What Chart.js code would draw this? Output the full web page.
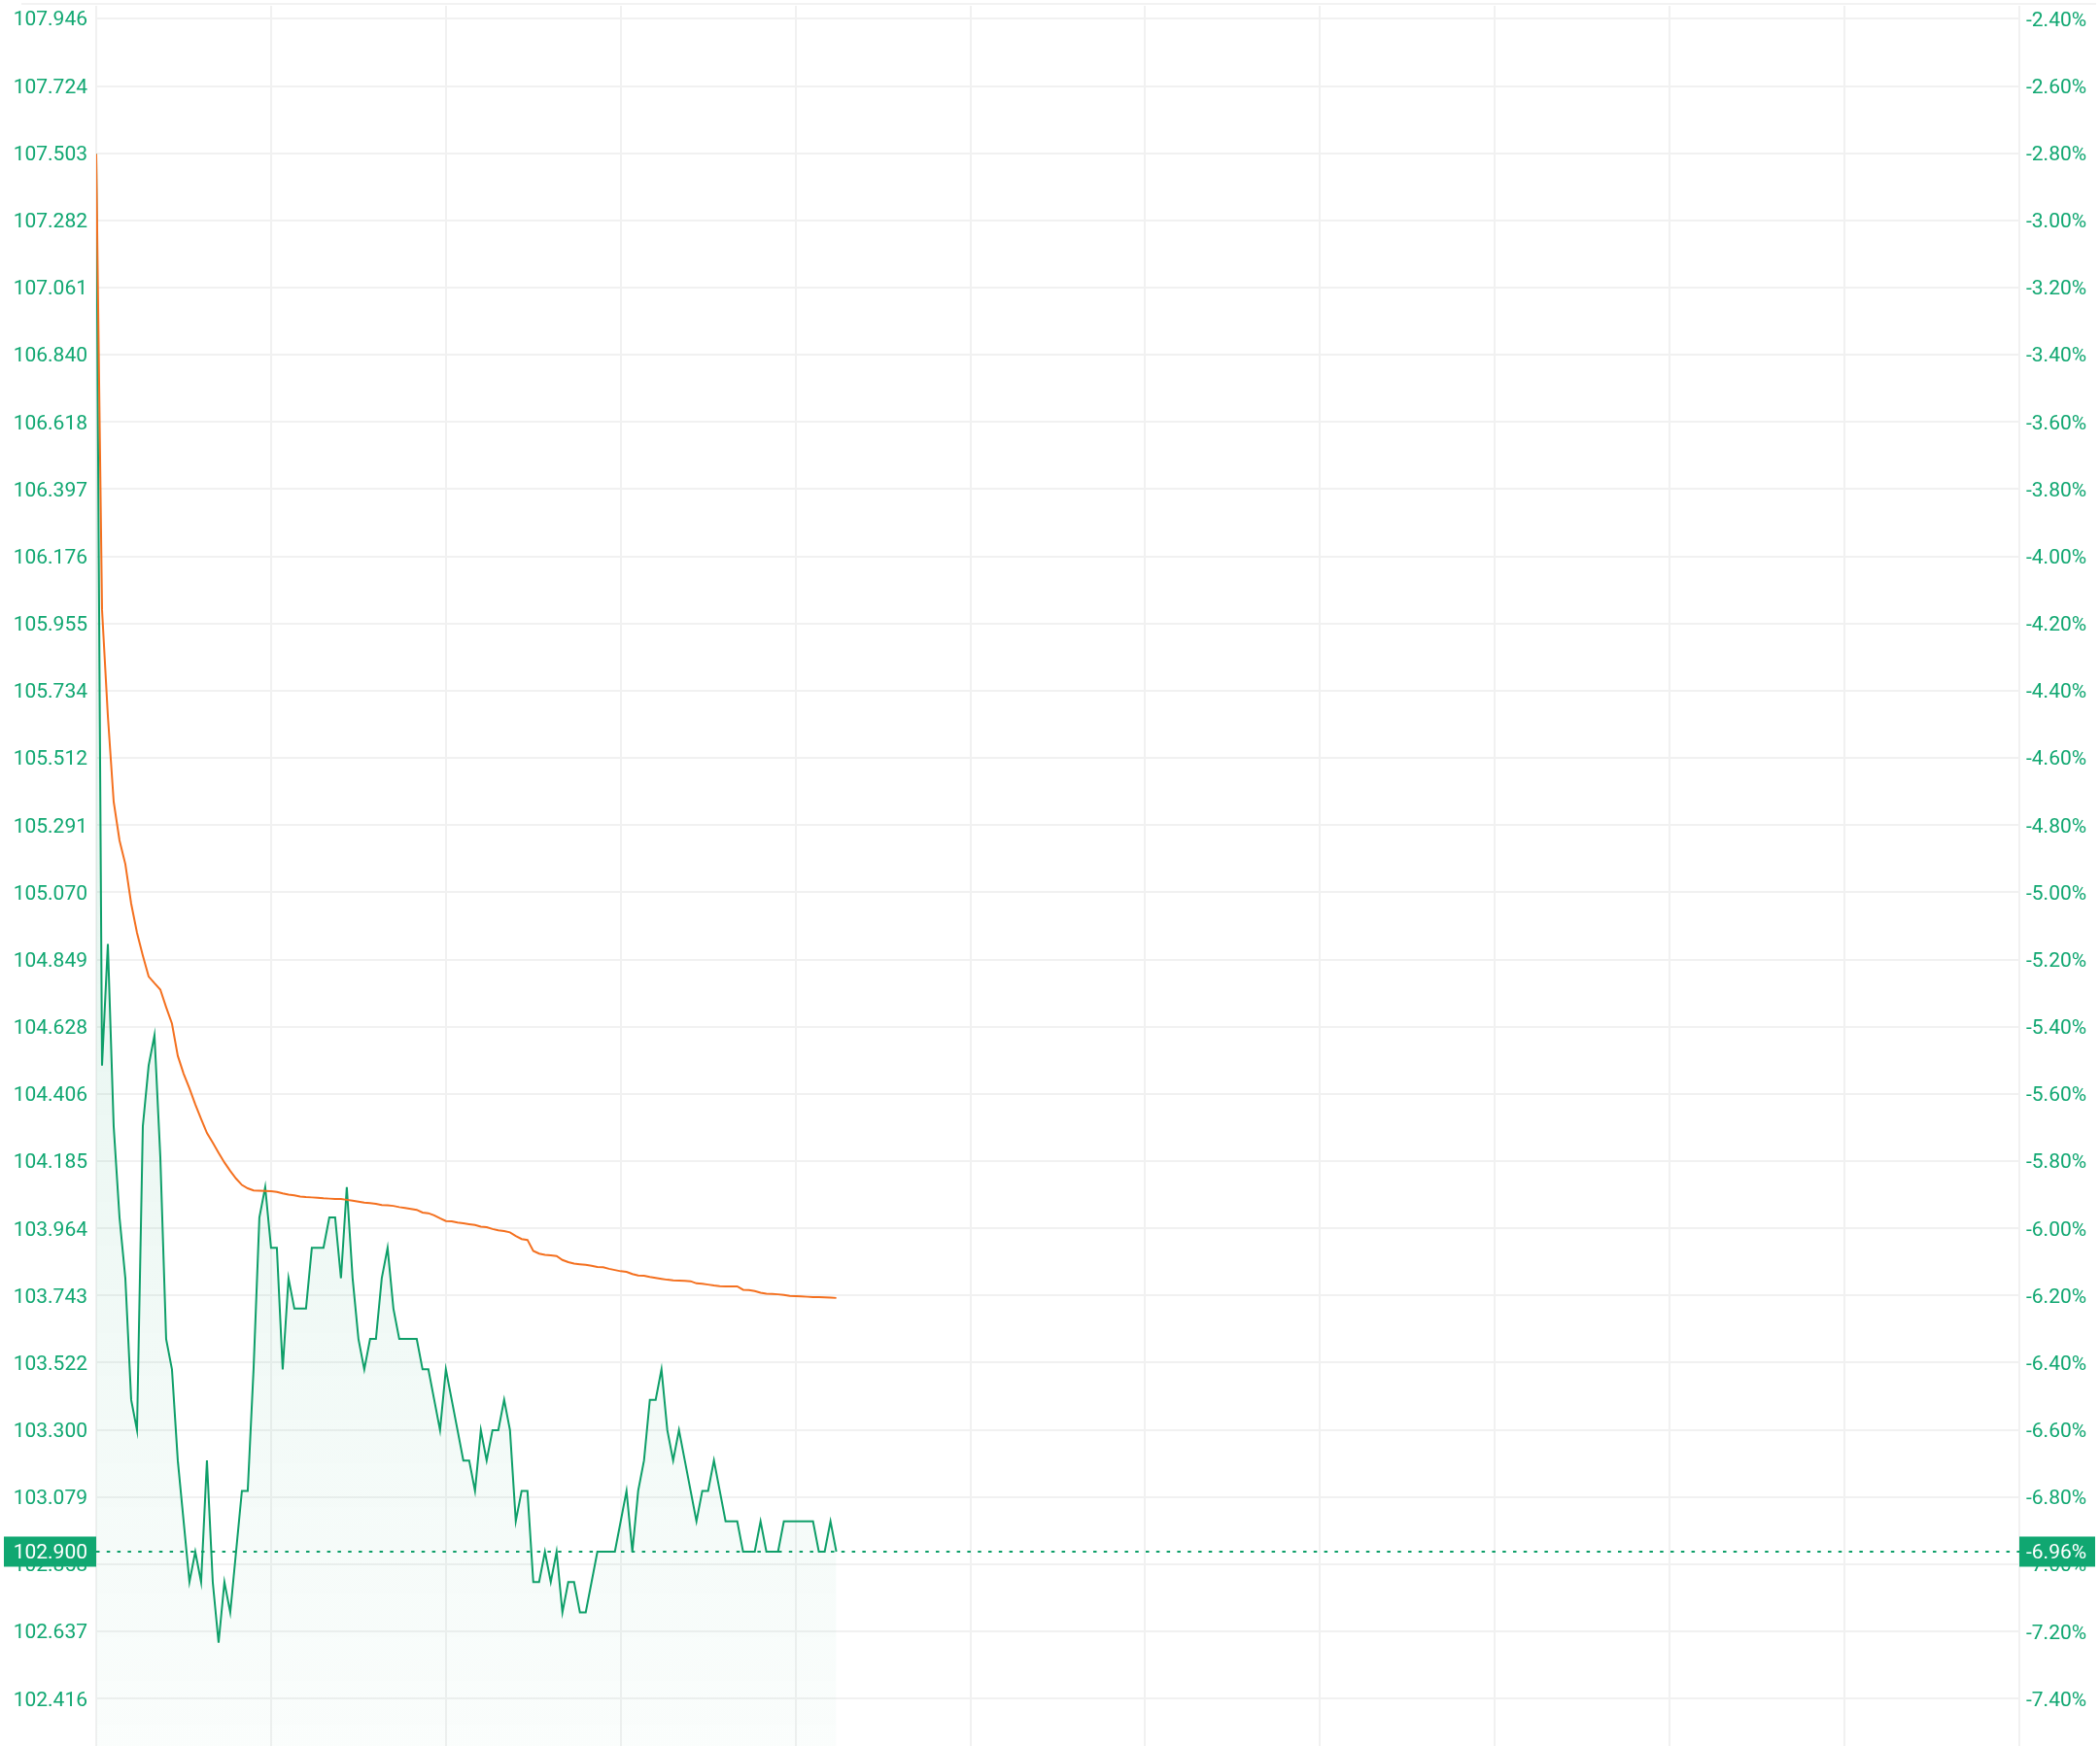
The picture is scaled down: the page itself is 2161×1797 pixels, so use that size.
<!DOCTYPE html>
<html>
<head>
<meta charset="utf-8">
<script src="https://cdn.jsdelivr.net/npm/chart.js@4.4.1/dist/chart.umd.min.js"></script>
<style>
  html, body { margin: 0; padding: 0; background: #fff; }
  canvas { display: block; }
</style>
</head>
<body>
<canvas id="priceChart" width="2161" height="1797"></canvas>
<script>
// Intraday price (green) and average price (orange), one point per minute
const prices = [
  107.5, 104.5, 104.9, 104.3, 104.0, 103.8, 103.4, 103.3, 104.3, 104.5,
  104.6, 104.2, 103.6, 103.5, 103.2, 103.0, 102.8, 102.9, 102.8, 103.2,
  102.8, 102.6, 102.8, 102.7, 102.9, 103.1, 103.1, 103.5, 104.0, 104.1,
  103.9, 103.9, 103.5, 103.8, 103.7, 103.7, 103.7, 103.9, 103.9, 103.9,
  104.0, 104.0, 103.8, 104.1, 103.8, 103.6, 103.5, 103.6, 103.6, 103.8,
  103.9, 103.7, 103.6, 103.6, 103.6, 103.6, 103.5, 103.5, 103.4, 103.3,
  103.5, 103.4, 103.3, 103.2, 103.2, 103.1, 103.3, 103.2, 103.3, 103.3,
  103.4, 103.3, 103.0, 103.1, 103.1, 102.8, 102.8, 102.9, 102.8, 102.9,
  102.7, 102.8, 102.8, 102.7, 102.7, 102.8, 102.9, 102.9, 102.9, 102.9,
  103.0, 103.1, 102.9, 103.1, 103.2, 103.4, 103.4, 103.5, 103.3, 103.2,
  103.3, 103.2, 103.1, 103.0, 103.1, 103.1, 103.2, 103.1, 103.0, 103.0,
  103.0, 102.9, 102.9, 102.9, 103.0, 102.9, 102.9, 102.9, 103.0, 103.0,
  103.0, 103.0, 103.0, 103.0, 102.9, 102.9, 103.0, 102.9
];

const avgPrices = [
  107.5, 106.0, 105.651, 105.368, 105.241, 105.163, 105.033, 104.937, 104.862, 104.793,
  104.771, 104.750, 104.692, 104.638, 104.532, 104.473, 104.425, 104.372, 104.324, 104.278,
  104.246, 104.213, 104.181, 104.153, 104.128, 104.107, 104.096, 104.089, 104.088, 104.087,
  104.086, 104.084, 104.079, 104.075, 104.073, 104.069, 104.067, 104.066, 104.065, 104.063,
  104.062, 104.061, 104.061, 104.058, 104.055, 104.052, 104.049, 104.047, 104.045, 104.041,
  104.040, 104.038, 104.034, 104.031, 104.028, 104.025, 104.016, 104.014, 104.007, 103.997,
  103.988, 103.987, 103.983, 103.981, 103.978, 103.975, 103.970, 103.968, 103.962, 103.958,
  103.955, 103.951, 103.939, 103.929, 103.926, 103.890, 103.881, 103.877, 103.875, 103.873,
  103.860, 103.853, 103.848, 103.846, 103.844, 103.841, 103.837, 103.836, 103.831, 103.827,
  103.823, 103.821, 103.814, 103.809, 103.808, 103.804, 103.801, 103.798, 103.795, 103.793,
  103.792, 103.791, 103.790, 103.783, 103.782, 103.779, 103.776, 103.774, 103.773, 103.773,
  103.773, 103.762, 103.761, 103.758, 103.752, 103.749, 103.748, 103.747, 103.745, 103.742,
  103.741, 103.740, 103.739, 103.738, 103.738, 103.737, 103.736, 103.735
];

// Previous close, used for the percent axis
const prevClose = 110.6;

// Tick labels: left in price, right in percent change
const priceTicks = [
  107.946, 107.724, 107.503, 107.282, 107.061, 106.840, 106.618, 106.397, 106.176,
  105.955, 105.734, 105.512, 105.291, 105.070, 104.849, 104.628, 104.406, 104.185,
  103.964, 103.743, 103.522, 103.300, 103.079, 102.858, 102.637, 102.416
];
const pctTicks = [
  -2.4, -2.6, -2.8, -3.0, -3.2, -3.4, -3.6, -3.8, -4.0, -4.2, -4.4, -4.6, -4.8,
  -5.0, -5.2, -5.4, -5.6, -5.8, -6.0, -6.2, -6.4, -6.6, -6.8, -7.0, -7.2, -7.4
];

// Session length in minutes and vertical grid spacing
const sessionMinutes = 330;
const gridEvery = 30;

const yMin = 102.2603;
const yMax = 107.988;
const toPct = (p) => (p / prevClose - 1) * 100;

const GREEN = '#0e9f69';
const LABEL_GREEN = '#10a771';
const ORANGE = '#f4701f';
const GRID = '#f1f1f1';
const FONT = { family: 'Roboto', size: 21 };

document.addEventListener('DOMContentLoaded', () => {
  const canvas = document.getElementById('priceChart');

  // Dotted last-price line with the two value boxes, plus the thin top rule
  const lastPricePlugin = {
    id: 'lastPrice',
    beforeDraw: (chart) => {
      const { ctx, width } = chart;
      ctx.save();
      ctx.strokeStyle = '#eeeeee';
      ctx.lineWidth = 1.5;
      ctx.beginPath();
      ctx.moveTo(22, 4);
      ctx.lineTo(width - 4, 4);
      ctx.stroke();
      ctx.restore();
    },
    afterDatasetsDraw: (chart) => {
      const { ctx, chartArea, scales, width } = chart;
      const last = prices[prices.length - 1];
      const y = scales.y.getPixelForValue(last);

      ctx.save();
      ctx.strokeStyle = GREEN;
      ctx.lineWidth = 2;
      ctx.setLineDash([3.5, 7.3]);
      ctx.beginPath();
      ctx.moveTo(chartArea.left, y);
      ctx.lineTo(chartArea.right, y);
      ctx.stroke();
      ctx.setLineDash([]);

      ctx.fillStyle = LABEL_GREEN;
      ctx.fillRect(chartArea.left - 95, y - 15.5, 95, 31);
      ctx.fillRect(chartArea.right, y - 15.5, width - chartArea.right - 5, 31);

      ctx.fillStyle = '#ffffff';
      ctx.font = `${FONT.size}px ${FONT.family}`;
      ctx.textBaseline = 'middle';
      ctx.textAlign = 'right';
      ctx.fillText(last.toFixed(3), chartArea.left - 9, y + 2);
      ctx.textAlign = 'left';
      ctx.fillText(`${toPct(last).toFixed(2)}%`, chartArea.right + 7, y + 2);
      ctx.restore();
    }
  };

  const toPoints = (arr) => arr.map((v, i) => ({ x: i, y: v }));

  new Chart(canvas, {
    type: 'line',
    data: {
      datasets: [
        {
          label: 'Average',
          data: toPoints(avgPrices),
          borderColor: ORANGE,
          borderWidth: 2,
          pointRadius: 0,
          fill: false,
          tension: 0
        },
        {
          label: 'Price',
          data: toPoints(prices),
          borderColor: GREEN,
          borderWidth: 2,
          pointRadius: 0,
          tension: 0,
          fill: 'start',
          backgroundColor: (context) => {
            const { ctx, chartArea } = context.chart;
            if (!chartArea) return 'rgba(14,159,105,0.08)';
            const g = ctx.createLinearGradient(0, chartArea.top, 0, chartArea.bottom);
            g.addColorStop(0, 'rgba(14,159,105,0.16)');
            g.addColorStop(0.55, 'rgba(14,159,105,0.09)');
            g.addColorStop(1, 'rgba(14,159,105,0.02)');
            return g;
          }
        }
      ]
    },
    options: {
      responsive: false,
      animation: false,
      devicePixelRatio: 1,
      layout: { padding: { top: 6, left: 0, right: 0, bottom: 0 } },
      scales: {
        x: {
          type: 'linear',
          min: 0,
          max: sessionMinutes,
          ticks: { display: false, stepSize: gridEvery },
          grid: { color: GRID, lineWidth: 2, drawTicks: false },
          border: { display: false }
        },
        y: {
          position: 'left',
          min: yMin,
          max: yMax,
          afterBuildTicks: (scale) => {
            scale.ticks = priceTicks.map(v => ({ value: v }));
          },
          afterFit: (scale) => {
            scale.width = 99;
            scale.paddingTop = 0;
            scale.paddingBottom = 0;
          },
          ticks: {
            color: LABEL_GREEN,
            font: FONT,
            padding: 9,
            labelOffset: 2,
            callback: (v) => v.toFixed(3)
          },
          grid: { color: GRID, lineWidth: 2, drawTicks: false },
          border: { display: false }
        },
        y1: {
          position: 'right',
          min: toPct(yMin),
          max: toPct(yMax),
          afterBuildTicks: (scale) => {
            scale.ticks = pctTicks.map(v => ({ value: v }));
          },
          afterFit: (scale) => {
            scale.width = 83;
            scale.paddingTop = 0;
            scale.paddingBottom = 0;
          },
          ticks: {
            color: LABEL_GREEN,
            font: FONT,
            padding: 7,
            labelOffset: 2,
            callback: (v) => `${v.toFixed(2)}%`
          },
          grid: { display: false, drawTicks: false },
          border: { display: false }
        }
      },
      plugins: {
        legend: { display: false },
        tooltip: { enabled: false }
      }
    },
    plugins: [lastPricePlugin]
  });
});
</script>
</body>
</html>
